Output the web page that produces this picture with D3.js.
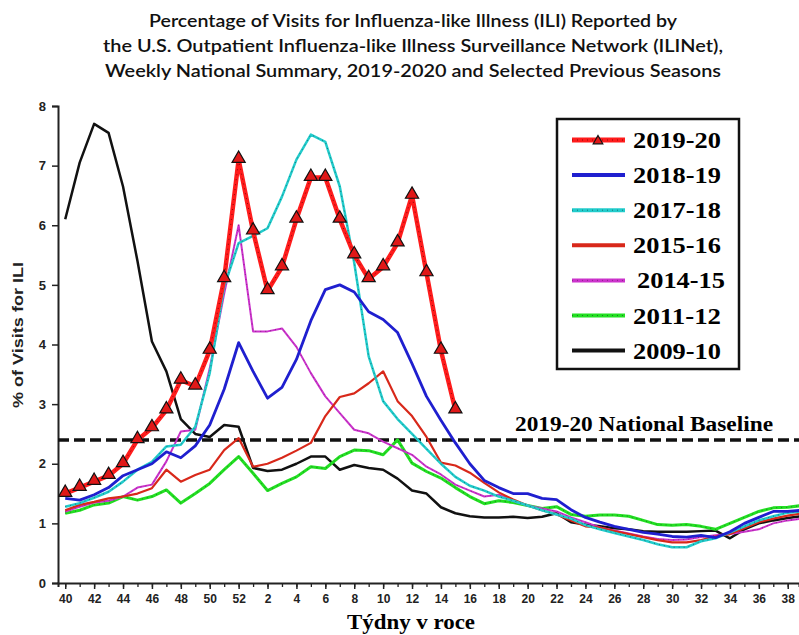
<html>
  <head>
    <script src="https://d3js.org/d3.v7.min.js"></script>
    <style>
      body { margin: 0; background: #fff; }
    </style>
  </head>
  <body>
    <svg width="799" height="635"></svg>
    <script>
      // week labels (season runs from week 40 to week 39)
      var weeks = [40, 41, 42, 43, 44, 45, 46, 47, 48, 49, 50, 51, 52,
        1, 2, 3, 4, 5, 6, 7, 8, 9, 10, 11, 12, 13, 14, 15, 16, 17, 18, 19, 20,
        21, 22, 23, 24, 25, 26, 27, 28, 29, 30, 31, 32, 33, 34, 35, 36, 37, 38, 39];
      var weekLabels = [40, 42, 44, 46, 48, 50, 52, 2, 4, 6, 8, 10, 12, 14, 16, 18,
        20, 22, 24, 26, 28, 30, 32, 34, 36, 38];
      var yTicks = [0, 1, 2, 3, 4, 5, 6, 7, 8];

      var seasons = ["2019-20", "2018-19", "2017-18", "2015-16", "2014-15", "2011-12", "2009-10"];

      var ili1920 = [1.5, 1.6, 1.7, 1.8, 2.0, 2.4, 2.6, 2.9, 3.4, 3.3, 3.9, 5.1, 7.1,
        5.9, 4.9, 5.3, 6.1, 6.8, 6.8, 6.1, 5.5, 5.1, 5.3, 5.7, 6.5, 5.2, 3.9, 2.9];
      var ili1819 = [1.42, 1.39, 1.48, 1.6, 1.8, 1.9, 2.0, 2.2, 2.1, 2.3, 2.65, 3.25, 4.03,
        3.55, 3.1, 3.28, 3.75, 4.4, 4.92, 5.0, 4.88, 4.55, 4.42, 4.2, 3.68, 3.13, 2.73, 2.35,
        2.0, 1.72, 1.6, 1.5, 1.5, 1.42, 1.4, 1.23, 1.1, 1.02, 0.95, 0.9, 0.85, 0.82, 0.78,
        0.77, 0.8, 0.76, 0.86, 1.0, 1.1, 1.2, 1.2, 1.22];
      var ili1718 = [1.28, 1.34, 1.43, 1.53, 1.7, 1.9, 2.03, 2.29, 2.32, 2.62, 3.52, 4.97, 5.7,
        5.82, 5.95, 6.48, 7.1, 7.52, 7.4, 6.65, 5.37, 3.8, 3.05, 2.75, 2.5, 2.25, 2.0, 1.78,
        1.63, 1.55, 1.45, 1.38, 1.3, 1.22, 1.15, 1.08, 0.97, 0.9, 0.84, 0.78, 0.72, 0.65, 0.6,
        0.6, 0.7, 0.75, 0.85, 0.95, 1.05, 1.12, 1.18, 1.2];
      var ili1516 = [1.22, 1.31, 1.36, 1.42, 1.45, 1.5, 1.59, 1.9, 1.7, 1.81, 1.9, 2.23, 2.43,
        1.95, 2.0, 2.1, 2.22, 2.35, 2.8, 3.12, 3.18, 3.35, 3.55, 3.05, 2.8, 2.45, 2.02, 1.97,
        1.85, 1.68, 1.52, 1.4, 1.3, 1.22, 1.15, 1.05, 0.95, 0.93, 0.87, 0.82, 0.77, 0.72, 0.68,
        0.68, 0.72, 0.78, 0.82, 0.92, 1.02, 1.08, 1.13, 1.17];
      var ili1415 = [1.2, 1.28, 1.35, 1.38, 1.45, 1.6, 1.65, 2.04, 2.54, 2.57, 3.6, 4.85, 6.0,
        4.22, 4.22, 4.27, 3.96, 3.52, 3.13, 2.85, 2.57, 2.51, 2.37, 2.26, 2.15, 1.95, 1.82, 1.65,
        1.55, 1.45, 1.48, 1.38, 1.3, 1.25, 1.2, 1.1, 1.02, 0.93, 0.88, 0.83, 0.78, 0.74, 0.72,
        0.73, 0.77, 0.8, 0.82, 0.86, 0.9, 1.0, 1.05, 1.08];
      var ili1112 = [1.17, 1.22, 1.31, 1.34, 1.45, 1.39, 1.45, 1.56, 1.34, 1.5, 1.67, 1.9, 2.12,
        1.84, 1.55, 1.67, 1.78, 1.95, 1.92, 2.12, 2.23, 2.22, 2.15, 2.4, 2.01, 1.87, 1.76, 1.6,
        1.45, 1.33, 1.38, 1.35, 1.3, 1.25, 1.28, 1.15, 1.12, 1.14, 1.14, 1.12, 1.05, 0.98, 0.97,
        0.98, 0.95, 0.9, 1.0, 1.1, 1.2, 1.26, 1.27, 1.3];
      var ili0910 = [6.1, 7.05, 7.7, 7.55, 6.65, 5.4, 4.05, 3.55, 2.75, 2.5, 2.45, 2.65, 2.62,
        1.93, 1.88, 1.9, 2.0, 2.12, 2.12, 1.9, 1.98, 1.93, 1.9, 1.75, 1.55, 1.5, 1.27, 1.17,
        1.12, 1.1, 1.1, 1.11, 1.09, 1.11, 1.17, 1.02, 0.98, 0.95, 0.92, 0.9, 0.87, 0.86, 0.86,
        0.86, 0.87, 0.88, 0.75, 0.9, 1.0, 1.05, 1.09, 1.12];
      var baseline = 2.4;

      var svg = d3.select("svg");

      var x = d3.scaleLinear().domain([-0.5, 50.78]).range([58, 799]);
      var y = d3.scaleLinear().domain([0, 8]).range([583, 106]);

      function idx(w) { return w >= 40 ? w - 40 : w + 12; }

      // title
      var titleLines = [
        "Percentage of Visits for Influenza-like Illness (ILI) Reported by",
        "the U.S. Outpatient Influenza-like Illness Surveillance Network (ILINet),",
        "Weekly National Summary, 2019-2020 and Selected Previous Seasons"
      ];
      var titleWidths = [528, 620, 616];
      svg.append("g").selectAll("text")
        .data(titleLines)
        .enter().append("text")
        .attr("x", 413)
        .attr("y", function(d, i) { return 27 + i * 25; })
        .attr("text-anchor", "middle")
        .attr("font-family", "Lato, 'Open Sans', sans-serif")
        .attr("font-size", "17px")
        .attr("font-weight", 600)
        .attr("textLength", function(d, i) { return titleWidths[i]; })
        .attr("lengthAdjust", "spacingAndGlyphs")
        .attr("fill", "#111")
        .text(function(d) { return d; });

      svg.append("clipPath").attr("id", "plotclip")
        .append("rect").attr("x", 58).attr("y", 90).attr("width", 741).attr("height", 500);

      // axes
      var yAxis = d3.axisLeft(y).tickValues(yTicks).tickSize(6).tickPadding(6);
      var gy = svg.append("g").attr("transform", "translate(58,0)").call(yAxis);
      gy.select(".domain").attr("stroke", "#222").attr("stroke-width", 2);
      gy.selectAll("text").attr("font-family", "'Liberation Sans', Arial, sans-serif")
        .attr("font-weight", "bold").attr("font-size", "13px").attr("fill", "#222");
      gy.selectAll("line").attr("stroke", "#222").attr("stroke-width", 1.5);

      var xMinor = d3.axisBottom(x).tickValues(d3.range(0, 51)).tickSize(4).tickFormat("");
      var gxm = svg.append("g").attr("transform", "translate(0,583)").call(xMinor);
      gxm.select(".domain").attr("stroke", "#222").attr("stroke-width", 2);
      gxm.selectAll("line").attr("stroke", "#222").attr("stroke-width", 1.3);

      var xAxis = d3.axisBottom(x).tickValues(weekLabels.map(idx)).tickSize(6).tickPadding(5)
        .tickFormat(function(d) { return weeks[d]; });
      var gx = svg.append("g").attr("transform", "translate(0,583)").call(xAxis);
      gx.select(".domain").remove();
      gx.selectAll("line").attr("stroke", "#222").attr("stroke-width", 1.5);
      gx.selectAll("text").attr("font-family", "'Liberation Sans', Arial, sans-serif")
        .attr("font-weight", "bold").attr("font-size", "12px").attr("fill", "#222");

      // axis titles
      svg.append("text")
        .attr("transform", "translate(23,335) rotate(-90)")
        .attr("text-anchor", "middle")
        .attr("font-family", "'Liberation Sans', Arial, sans-serif")
        .attr("font-weight", "bold")
        .attr("font-size", "14px")
        .attr("textLength", 146)
        .attr("lengthAdjust", "spacingAndGlyphs")
        .attr("fill", "#222")
        .text("% of Visits for ILI");

      svg.append("text")
        .attr("x", 411).attr("y", 629)
        .attr("text-anchor", "middle")
        .attr("font-family", "'Liberation Serif', 'Times New Roman', serif")
        .attr("font-weight", "bold")
        .attr("font-size", "20px")
        .attr("textLength", 128)
        .attr("lengthAdjust", "spacingAndGlyphs")
        .text("Týdny v roce");

      // baseline
      svg.append("line")
        .attr("x1", 58).attr("x2", 799)
        .attr("y1", y(baseline)).attr("y2", y(baseline))
        .attr("stroke", "#111").attr("stroke-width", 3.5)
        .attr("stroke-dasharray", "11,5");
      svg.append("text")
        .attr("x", 515).attr("y", 431)
        .attr("font-family", "'Liberation Serif', 'Times New Roman', serif")
        .attr("font-weight", "bold")
        .attr("font-size", "20px")
        .attr("textLength", 258)
        .attr("lengthAdjust", "spacingAndGlyphs")
        .text("2019-20 National Baseline");

      // series styles
      var series = [
        { name: "2009-10", values: ili0910, color: "#111111", width: 2.5 },
        { name: "2011-12", values: ili1112, color: "#22e022", width: 3, dots: "#205020" },
        { name: "2014-15", values: ili1415, color: "#cc33cc", width: 2, dots: "#702070" },
        { name: "2015-16", values: ili1516, color: "#d8281a", width: 2.2 },
        { name: "2017-18", values: ili1718, color: "#22cccc", width: 2.5, dots: "#105050" },
        { name: "2018-19", values: ili1819, color: "#1f1fcf", width: 2.8 },
        { name: "2019-20", values: ili1920, color: "#ff1c1c", width: 4.5, dots: "#550000" }
      ];

      var line = d3.line()
        .x(function(d, i) { return x(i); })
        .y(function(d) { return y(d); });

      var plot = svg.append("g").attr("clip-path", "url(#plotclip)");
      series.forEach(function(s) {
        plot.append("path")
          .attr("d", line(s.values))
          .attr("fill", "none")
          .attr("stroke", s.color)
          .attr("stroke-width", s.width)
          .attr("stroke-linejoin", "round");
        if (s.dots) {
          plot.append("path")
            .attr("d", line(s.values))
            .attr("fill", "none")
            .attr("stroke", s.dots)
            .attr("stroke-width", 1)
            .attr("stroke-dasharray", "1,4")
            .attr("opacity", 0.7);
        }
      });

      // triangle markers for 2019-20
      var tri = d3.symbol().type(d3.symbolTriangle).size(75);
      plot.selectAll(".tri")
        .data(ili1920)
        .enter().append("path")
        .attr("class", "tri")
        .attr("d", tri)
        .attr("transform", function(d, i) { return "translate(" + x(i) + "," + (y(d) - 1) + ")"; })
        .attr("fill", "#e01818")
        .attr("stroke", "#111")
        .attr("stroke-width", 1.2);

      // legend
      var legend = svg.append("g");
      legend.append("rect")
        .attr("x", 557).attr("y", 119).attr("width", 182).attr("height", 250)
        .attr("fill", "#fff").attr("stroke", "#111").attr("stroke-width", 2.5);

      var legendStyle = {};
      series.forEach(function(s) { legendStyle[s.name] = s; });

      seasons.forEach(function(name, i) {
        var s = legendStyle[name];
        var cy = 140 + i * 35.1;
        legend.append("line")
          .attr("x1", 572).attr("x2", 625)
          .attr("y1", cy).attr("y2", cy)
          .attr("stroke", s.color)
          .attr("stroke-width", i == 0 ? 5 : 4);
        if (s.dots) {
          legend.append("line")
            .attr("x1", 572).attr("x2", 625)
            .attr("y1", cy).attr("y2", cy)
            .attr("stroke", s.dots).attr("stroke-width", 1)
            .attr("stroke-dasharray", "1,4").attr("opacity", 0.7);
        }
        if (i == 0) {
          legend.append("path")
            .attr("d", d3.symbol().type(d3.symbolTriangle).size(40))
            .attr("transform", "translate(598," + (cy + 1) + ")")
            .attr("fill", "#e01818").attr("stroke", "#111").attr("stroke-width", 1.2);
        }
        legend.append("text")
          .attr("x", name == "2014-15" ? 637 : 633)
          .attr("y", cy + 8)
          .attr("font-family", "'Liberation Serif', 'Times New Roman', serif")
          .attr("font-weight", "bold")
          .attr("font-size", "23px")
          .attr("textLength", 88)
          .attr("lengthAdjust", "spacingAndGlyphs")
          .text(name);
      });
    </script>
  </body>
</html>
